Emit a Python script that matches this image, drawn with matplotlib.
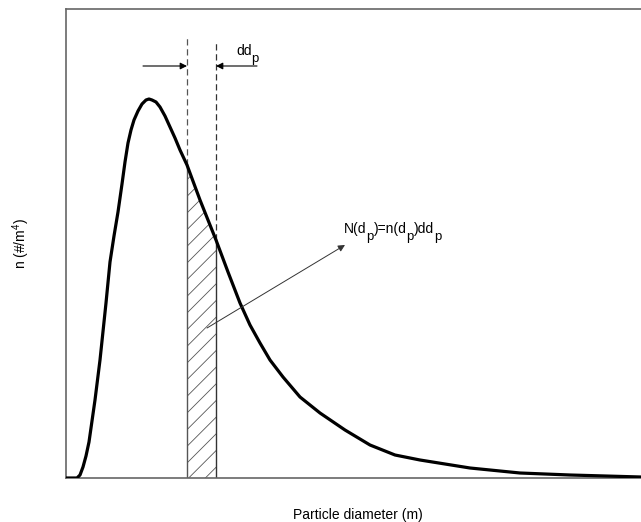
"""Particle size distribution n(dp) with the dN = n(dp) ddp strip."""

import numpy as np
import matplotlib
matplotlib.use('Agg')
import matplotlib.pyplot as plt
from matplotlib.transforms import offset_copy

plt.rcParams['font.family'] = ['Liberation Sans', 'DejaVu Sans']
plt.rcParams['mathtext.fontset'] = 'custom'
plt.rcParams['mathtext.rm'] = 'Liberation Sans'
plt.rcParams['mathtext.it'] = 'Liberation Sans'
plt.rcParams['hatch.linewidth'] = 0.6
plt.rcParams['hatch.color'] = '#555555'

# curve (arbitrary units)
dp = [0, 11, 14, 17, 20, 23, 29, 34, 40, 44, 48, 52, 56, 59, 62, 65, 68, 72,
      76, 80, 83, 86, 90, 94, 99, 104, 109, 114, 121, 134, 150, 162, 174,
      184, 194, 204, 217, 234, 254, 279, 304, 329, 354, 379, 404, 454, 504,
      575]
n_dp = [0, 0, 3, 11, 22, 36, 78, 118, 175, 216, 242, 266, 294, 316, 335, 348,
        358, 367, 374, 378, 379, 378, 376, 371, 362, 351, 340, 328, 313, 278,
        238, 206, 175, 153, 135, 118, 101, 81, 65, 48, 33, 23, 18, 14, 10, 5,
        3, 1]

# strip width d(dp)
strip_lo, strip_hi = 121, 150
x_max, y_max = 575, 469

dp = np.array(dp)
n_dp = np.array(n_dp)

fig = plt.figure(figsize=(6.41, 5.22), dpi=100)
ax = fig.add_axes([66/641, 44/522, 575/641, 469/522])
renderer = fig.canvas.get_renderer()


def sub_text(x, y, parts, fontsize=10):
    """Write text pieces one after another; (string, is_subscript)."""
    dx = 0
    for s, sub in parts:
        tr = offset_copy(ax.transData, fig=fig, x=dx, y=-7 if sub else 0,
                         units='dots')
        txt = ax.text(x, y, s, fontsize=9.5 if sub else fontsize,
                      transform=tr, va='baseline', ha='left')
        dx += txt.get_window_extent(renderer).width


ax.plot(dp, n_dp, color='black', lw=2.3, solid_capstyle='round',
        solid_joinstyle='round', zorder=3)

# hatched strip
mask = (dp >= strip_lo) & (dp <= strip_hi)
ax.fill_between(dp[mask], 0, n_dp[mask], facecolor='none', edgecolor='#555555',
                hatch='//', lw=0, zorder=1)
y_lo = n_dp[dp == strip_lo][0]
y_hi = n_dp[dp == strip_hi][0]
ax.plot([strip_lo, strip_lo], [0, y_lo], color='#555555', lw=1.0)
ax.plot([strip_hi, strip_hi], [0, y_hi], color='#333333', lw=1.0)
ax.plot([strip_lo, strip_lo], [y_lo, 440], color='#555555', lw=0.9, ls=(0, (5, 3)))
ax.plot([strip_hi, strip_hi], [y_hi, 438], color='#333333', lw=0.9, ls=(0, (5, 3)))

# width arrows
arrow = dict(arrowstyle='-|>', color='black', lw=0.8, mutation_scale=10,
             shrinkA=0, shrinkB=0)
ax.annotate('', xy=(strip_lo, 412), xytext=(77, 412), arrowprops=arrow)
ax.annotate('', xy=(strip_hi, 412), xytext=(191, 412), arrowprops=arrow)
sub_text(170, 423, [('dd', False), ('p', True)])

ax.annotate('', xy=(279, 233), xytext=(141, 150),
            arrowprops=dict(arrowstyle='-|>', color='#333333', lw=0.7,
                            mutation_scale=10, shrinkA=0, shrinkB=0))
sub_text(278, 245, [('N(d', False), ('p', True), (')=n(d', False), ('p', True),
                    (')dd', False), ('p', True)])

ax.set_xlim(0, x_max)
ax.set_ylim(0, y_max)
ax.set_xticks([])
ax.set_yticks([])
for side in ['left', 'top', 'bottom']:
    ax.spines[side].set_color('#666666')
    ax.spines[side].set_linewidth(1.2)
ax.spines['right'].set_visible(False)

ax.set_xlabel('Particle diameter (m)', fontsize=10)
ax.xaxis.set_label_coords(0.508, -0.064)
ax.set_ylabel('n (#/m$^\\mathrm{4}$)', fontsize=10)
ax.yaxis.set_label_coords(-0.059, 0.5)

fig.savefig('out.png', dpi=100)
